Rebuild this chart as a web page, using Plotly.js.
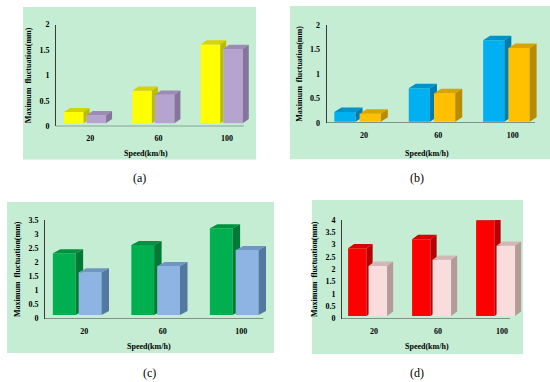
<!DOCTYPE html>
<html>
<head>
<meta charset="utf-8">
<script src="https://cdn.plot.ly/plotly-3.0.1.min.js"></script>
<style>
html,body{margin:0;padding:0;background:#ffffff;}
#chart{width:550px;height:382px;}
</style>
</head>
<body>
<div id="chart"></div>
<script>
// ---------------- data ----------------
const categories = ['20', '60', '100'];          // Speed (km/h)
const seriesA1 = [0.22, 0.64, 1.55];             // (a) yellow
const seriesA2 = [0.16, 0.56, 1.46];             // (a) purple
const seriesB1 = [0.20, 0.68, 1.66];             // (b) blue
const seriesB2 = [0.16, 0.58, 1.50];             // (b) orange
const seriesC1 = [2.19, 2.49, 3.08];             // (c) green
const seriesC2 = [1.52, 1.74, 2.31];             // (c) light blue
const seriesD1 = [2.75, 3.12, 3.87];             // (d) red
const seriesD2 = [2.03, 2.28, 2.85];             // (d) pink
const yTicksAB = [0, 0.5, 1, 1.5, 2];
const yTicksC = [0, 0.5, 1, 1.5, 2, 2.5, 3, 3.5];
const yTicksD = [0, 0.5, 1, 1.5, 2, 2.5, 3, 3.5, 4];
const panelLabels = ['(a)', '(b)', '(c)', '(d)'];
const xTitleText = 'Speed(km/h)';
const yTitleText = 'Maximum  fluctuation(mm)';

// ---------------- styling / layout ----------------
const W = 550, H = 382;
const FONT = 'Liberation Serif, Times New Roman, serif';
const PANEL_BG = '#C4EDD4';
const AXIS_COLOR = '#3a3a3a';

const panels = [
  { s: [seriesA1, seriesA2], ticks: yTicksAB, label: panelLabels[0],
    left: 56, unit: 68.35, y0: 126.3, yTop: 24.5, floorPx: 3.0, dx: 6, dy: 4.2,
    offs: [-0.24, 0.09], w: 0.285, axisEnd: 2.25,
    rect: [23, 7, 256, 159.5], xTitle: [146, 153], lab: [139, 178],
    colors: [['#FFFF00', '#D6D400', '#BDBB00'], ['#B6A3CF', '#9D8BB6', '#85749C']] },
  { s: [seriesB1, seriesB2], ticks: yTicksAB, label: panelLabels[1],
    left: 326.7, unit: 74.4, y0: 123, yTop: 24.8, floorPx: 1.3, dx: 7, dy: 4.5,
    offs: [-0.255, 0.085], w: 0.285, axisEnd: 2.3,
    rect: [290, 6, 550, 159.3], xTitle: [427, 153], lab: [417, 178],
    colors: [['#00B0F0', '#0093CA', '#007DAE'], ['#FFC000', '#D9A400', '#B98C00']] },
  { s: [seriesC1, seriesC2], ticks: yTicksC, label: panelLabels[2],
    left: 45, unit: 78.5, y0: 318.5, yTop: 220, floorPx: 3.5, dx: 7.5, dy: 4,
    offs: [-0.255, 0.075], w: 0.29, axisEnd: 2.28,
    rect: [7, 202, 274, 353], xTitle: [149, 346], lab: [149, 373],
    colors: [['#00B050', '#00923F', '#007A35'], ['#8DB4E2', '#7096C2', '#5379A3']] },
  { s: [seriesD1, seriesD2], ticks: yTicksD, label: panelLabels[3],
    left: 342, unit: 64, y0: 318.5, yTop: 220, floorPx: 2.5, dx: 6, dy: 4.4,
    offs: [-0.26, 0.06], w: 0.29, axisEnd: 2.125,
    rect: [312, 200, 523, 354], xTitle: [427, 346], lab: [417, 373],
    colors: [['#FF0000', '#D80000', '#B90000'], ['#F9DCDC', '#D3B7B7', '#B49A9A']] }
];

const data = [];
const scatterData = [];
const layout = {
  width: W, height: H,
  margin: { l: 0, r: 0, t: 0, b: 0, pad: 0 },
  paper_bgcolor: '#ffffff',
  plot_bgcolor: 'rgba(0,0,0,0)',
  barmode: 'overlay',
  showlegend: false,
  shapes: [],
  annotations: [],
  font: { family: FONT, color: '#000000' }
};

const px2x = p => p / W;
const px2y = p => 1 - p / H;

panels.forEach((P, k) => {
  const n = k === 0 ? '' : String(k + 1);
  const xa = 'x' + n, ya = 'y' + n;
  const yMax = P.ticks[P.ticks.length - 1];
  const pxPerY = (P.y0 - P.yTop) / yMax;
  const dxU = P.dx / P.unit;
  const dyU = P.dy / pxPerY;
  const floorU = P.floorPx / pxPerY;
  const xs = categories.map((c, i) => i);

  // front faces: real bar traces
  P.s.forEach((vals, j) => {
    data.push({
      type: 'bar', x: xs, y: vals, base: floorU,
      offset: P.offs[j] - P.w / 2, width: P.w,
      marker: { color: P.colors[j][0], line: { width: 0 } },
      xaxis: xa, yaxis: ya, hoverinfo: 'skip', showlegend: false
    });
  });

  // 3D top and side faces, computed from the same values
  P.s.forEach((vals, j) => {
    const topX = [], topY = [], sideX = [], sideY = [];
    vals.forEach((v, i) => {
      const xl = i + P.offs[j] - P.w / 2, xr = xl + P.w;
      const b = floorU, t = floorU + v;
      topX.push(xl, xl + dxU, xr + dxU, xr, xl, null);
      topY.push(t, t + dyU, t + dyU, t, t, null);
      if (j === 0 && P.s.length > 1) {
        const xb1 = i + P.offs[1] - P.w / 2;
        const tb = floorU + P.s[1][i];
        if (xb1 < xr + dxU) {
          const f = (xb1 - xr) / dxU;
          const yb = b + dyU * f;
          const ytopAt = t + dyU * f;
          if (tb >= ytopAt) {
            sideX.push(xr, xb1, xb1, xr, xr, null);
            sideY.push(b, yb, ytopAt, t, b, null);
          } else {
            sideX.push(xr, xb1, xb1, xr + dxU, xr + dxU, xr, xr, null);
            sideY.push(b, yb, tb, tb, t + dyU, t, b, null);
          }
          return;
        }
      }
      sideX.push(xr, xr + dxU, xr + dxU, xr, xr, null);
      sideY.push(b, b + dyU, t + dyU, t, b, null);
    });
    scatterData.push({
      type: 'scatter', mode: 'lines', x: topX, y: topY, fill: 'toself',
      fillcolor: P.colors[j][1], line: { width: 0, color: P.colors[j][1] },
      xaxis: xa, yaxis: ya, hoverinfo: 'skip', showlegend: false
    });
    scatterData.push({
      type: 'scatter', mode: 'lines', x: sideX, y: sideY, fill: 'toself',
      fillcolor: P.colors[j][2], line: { width: 0, color: P.colors[j][2] },
      xaxis: xa, yaxis: ya, hoverinfo: 'skip', showlegend: false
    });
  });

  const tickFont = { family: FONT, size: 8, color: '#000000', weight: 'bold' };
  layout['xaxis' + n] = {
    domain: [px2x(P.left), Math.min(1, px2x(P.left + 3 * P.unit))],
    range: [-0.5, 2.5], anchor: ya,
    tickvals: xs, ticktext: categories, tickfont: tickFont,
    ticks: '', showline: false, showgrid: false, zeroline: false,
    ticklabelstandoff: 6, fixedrange: true
  };
  layout['yaxis' + n] = {
    domain: [px2y(P.y0), px2y(P.yTop)],
    range: [0, yMax], anchor: xa,
    tickvals: P.ticks, tickfont: tickFont,
    ticks: '', showline: true, linecolor: AXIS_COLOR, linewidth: 1,
    showgrid: false, zeroline: false, ticklabelstandoff: 4,
    title: { text: yTitleText, font: { family: FONT, size: 8, color: '#000000', weight: 'bold' }, standoff: 6 },
    fixedrange: true
  };

  // green panel background
  layout.shapes.push({
    type: 'rect', xref: 'paper', yref: 'paper', layer: 'below',
    x0: px2x(P.rect[0]), x1: px2x(P.rect[2]), y0: px2y(P.rect[3]), y1: px2y(P.rect[1]),
    fillcolor: PANEL_BG, line: { width: 0 }
  });
  // category axis line (floor front edge)
  layout.shapes.push({
    type: 'line', xref: xa, yref: ya, layer: 'above',
    x0: -0.5, x1: P.axisEnd, y0: 0, y1: 0,
    line: { color: AXIS_COLOR, width: 1 }
  });
  // x-axis title
  layout.annotations.push({
    xref: 'paper', yref: 'paper', x: px2x(P.xTitle[0]), y: px2y(P.xTitle[1]),
    xanchor: 'center', yanchor: 'middle', showarrow: false,
    text: xTitleText, font: { family: FONT, size: 8, color: '#000000', weight: 'bold' }
  });
  // panel label
  layout.annotations.push({
    xref: 'paper', yref: 'paper', x: px2x(P.lab[0]), y: px2y(P.lab[1]),
    xanchor: 'center', yanchor: 'middle', showarrow: false,
    text: P.label, font: { family: FONT, size: 12, color: '#000000' }
  });
});

Plotly.newPlot('chart', data.concat(scatterData), layout, { displayModeBar: false, staticPlot: true });
</script>
</body>
</html>
